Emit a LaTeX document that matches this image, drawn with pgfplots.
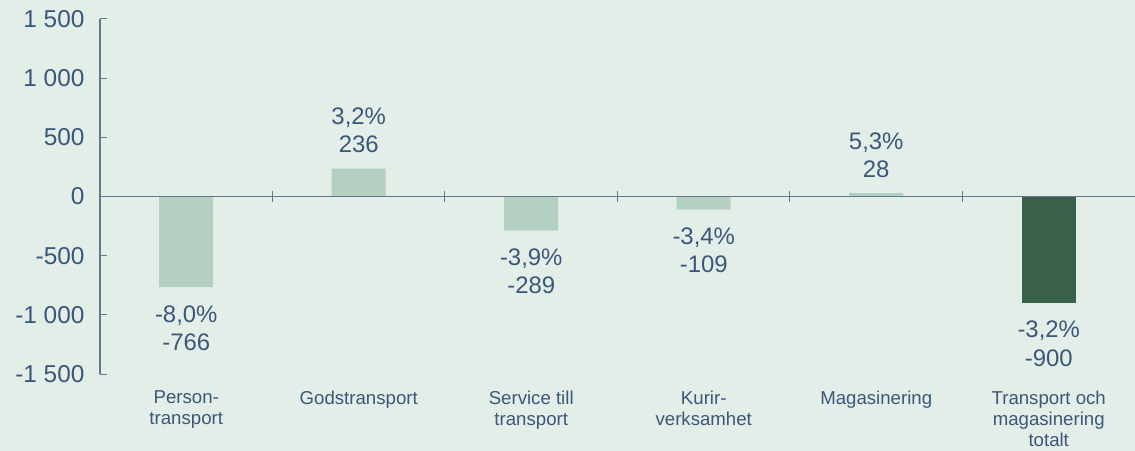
\documentclass[border=0pt]{standalone}
\usepackage{pgfplots}
\usepackage{pgfplotstable}
\pgfplotsset{compat=1.18}
\usepackage{fontspec}
\setmainfont{Liberation Sans}
\usetikzlibrary{backgrounds}
\definecolor{bg}{HTML}{E3EEE8}
\definecolor{barlight}{HTML}{B3D0C1}
\definecolor{bardark}{HTML}{3A5F4A}
\definecolor{txt}{HTML}{3B5779}
\definecolor{axc}{HTML}{62788F}

\pgfplotstableread[col sep=semicolon]{
x;y;label
1;236;{3,2\%\\236}
4;28;{5,3\%\\28}
}\datapos
\pgfplotstableread[col sep=semicolon]{
x;y;label
0;-766;{-8,0\%\\-766}
2;-289;{-3,9\%\\-289}
3;-109;{-3,4\%\\-109}
}\dataneg
\pgfplotstableread[col sep=semicolon]{
x;y;label
5;-900;{-3,2\%\\-900}
}\datadark

\begin{document}
\begin{tikzpicture}
\begin{axis}[
  scale only axis, width=1035bp, height=355bp,
  xmin=-0.5, xmax=5.5, ymin=-1500, ymax=1500,
  axis y line*=left, axis x line*=bottom,
  x axis line style={draw=none},
  y axis line style={draw=axc, line width=1.4bp},
  ytick={-1500,-1000,...,1500},
  ytick style={draw=axc, line width=1bp},
  tick align=inside, major tick length=7bp,
  yticklabel style={font=\fontsize{24.5}{28}\selectfont, text=txt, xshift=-12bp},
  /pgf/number format/assume math mode=true,
  /pgf/number format/1000 sep={\ },
  xtick={0,...,5},
  xticklabels={{Person-\\transport},{Godstransport},{Service till\\transport},{Kurir-\\verksamhet},{Magasinering},{Transport och\\magasinering\\totalt}},
  x tick style={draw=none},
  xticklabel style={align=center, anchor=north, font=\fontsize{18.7}{21.5}\selectfont, text=txt, yshift=-6bp},
  ybar, bar width=54bp,
  nodes near coords,
  point meta=explicit symbolic,
  every node near coord/.append style={align=center, font=\fontsize{24}{28.3}\selectfont, text=txt, inner sep=0pt},
  clip=false,
]
\addplot[fill=barlight, draw=none, bar shift=0pt, every node near coord/.append style={anchor=south, yshift=15.5bp}] table[x=x, y=y, meta=label] {\datapos};
\addplot[fill=barlight, draw=none, bar shift=0pt, every node near coord/.append style={anchor=north, yshift=-18bp}] table[x=x, y=y, meta=label] {\dataneg};
\addplot[fill=bardark, draw=none, bar shift=0pt, every node near coord/.append style={anchor=north, yshift=-18bp}] table[x=x, y=y, meta=label] {\datadark};
\draw[axc, line width=1.6bp] (axis cs:-0.5,0) -- (axis cs:5.5,0);
\draw[axc, line width=1bp] (axis cs:0.5,0) ++(0bp,-5.5bp) -- ++(0bp,11bp);
\draw[axc, line width=1bp] (axis cs:1.5,0) ++(0bp,-5.5bp) -- ++(0bp,11bp);
\draw[axc, line width=1bp] (axis cs:2.5,0) ++(0bp,-5.5bp) -- ++(0bp,11bp);
\draw[axc, line width=1bp] (axis cs:3.5,0) ++(0bp,-5.5bp) -- ++(0bp,11bp);
\draw[axc, line width=1bp] (axis cs:4.5,0) ++(0bp,-5.5bp) -- ++(0bp,11bp);
\end{axis}
\begin{scope}[on background layer]
\fill[bg] (-100bp,-77bp) rectangle (1035bp,374bp);
\end{scope}
\pgfresetboundingbox
\useasboundingbox (-100bp,-77bp) rectangle (1035bp,374bp);
\end{tikzpicture}
\end{document}
